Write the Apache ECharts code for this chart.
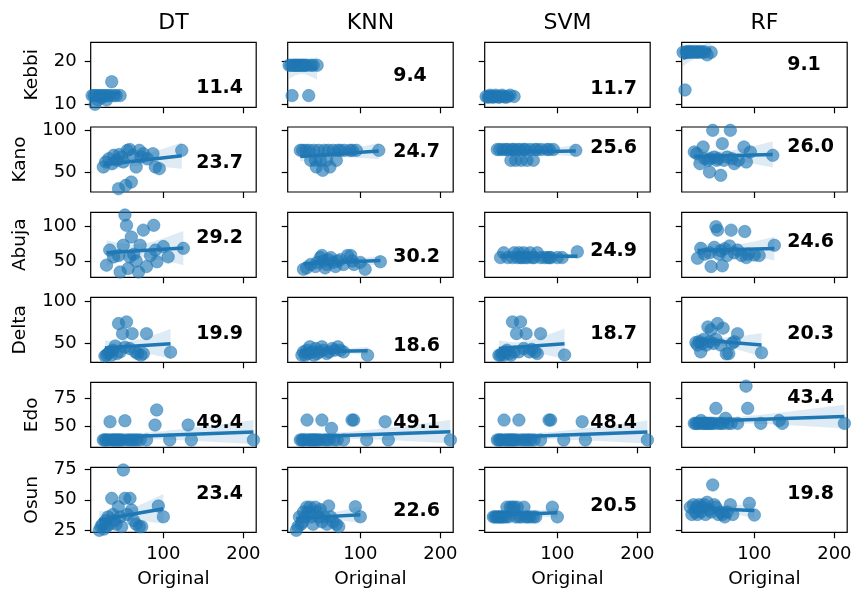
<!DOCTYPE html>
<html><head><meta charset="utf-8">
<script src="https://cdn.jsdelivr.net/npm/echarts@6/dist/echarts.min.js"></script>
<style>html,body{margin:0;padding:0;background:#fff}#c{width:859px;height:596px}</style>
</head><body><div id="c"></div>
<script>
// ---------------- DATA ----------------
const models = ['DT', 'KNN', 'SVM', 'RF'];
const states = ['Kebbi', 'Kano', 'Abuja', 'Delta', 'Edo', 'Osun'];
const xTickValues = [100, 200];

const kebbiX   = [11, 13.4, 14.7, 16, 18, 19.5, 21, 23, 25, 27, 29, 31, 33, 35.5, 38, 41, 46];
const kebbiDT  = [12, 12, 10, 12, 11, 12, 12, 11.5, 12, 12, 11, 12, 12, 15.2, 12, 12, 12];
const kebbiKNN = [19, 19, 12, 19, 19, 19, 19, 19, 19, 19, 19, 19, 19, 12, 19, 19, 19];
const kebbiSVM = [11.8, 11.6, 11.8, 12.1, 11.8, 11.6, 11.8, 12.1, 11.8, 11.6, 11.8, 12.1, 11.8, 11.6, 11.8, 12.1, 11.8];
const kebbiRF  = [22, 13.3, 22.1, 22, 22.2, 22, 22.1, 22, 22.2, 22, 22.1, 22, 22.2, 22, 22.1, 21.4, 22];
const kebbiTicks = [10, 20];

const kanoX   = [25, 28, 32, 36, 38, 42, 44, 45, 48, 50, 53, 55, 58, 60, 62, 66, 70, 72, 75, 80, 87, 90, 95, 123];
const kanoDT  = [56, 62, 66, 60, 70, 64, 30, 71, 68, 62, 34, 76, 77, 38, 70, 56, 76, 68, 72, 66, 72, 56, 54, 76];
const kanoKNN = [76, 76, 76, 76, 64, 76, 64, 56, 76, 64, 52, 76, 64, 76, 56, 76, 64, 76, 76, 76, 76, 76, 76, 76];
const kanoSVM = [77, 77, 77, 77, 77, 64, 77, 77, 64, 77, 77, 64, 77, 77, 64, 77, 64, 77, 77, 77, 77, 77, 77, 76];
const kanoRF  = [74, 72, 60, 80, 66, 64, 50, 66, 100, 68, 64, 66, 46, 84, 64, 68, 100, 66, 60, 64, 80, 62, 74, 70];
const kanoTicks = [50, 100];

const abujaX   = [29, 33, 38, 44, 46, 50, 52, 54, 56, 58, 60, 63, 66, 69, 71, 75, 79, 84, 88, 90, 92, 100, 106, 125];
const abujaDT  = [44, 66, 56, 58, 34, 73, 117, 102, 39, 56, 85, 60, 50, 34, 73, 95, 42, 58, 102, 66, 49, 71, 56, 68.5];
const abujaKNN = [38, 40, 45, 42, 48, 55, 58, 50, 40, 45, 52, 55, 48, 42, 50, 52, 45, 58, 58, 50, 45, 48, 38, 49];
const abujaSVM = [55, 62, 55, 55, 62, 55, 62, 55, 55, 62, 55, 55, 62, 55, 55, 62, 55, 55, 55, 55, 55, 55, 55, 63.5];
const abujaRF  = [54, 68.5, 60, 62, 42, 70, 100, 95, 60, 65, 43, 68, 58, 72, 95, 62, 66, 58, 93, 55, 60, 58.7, 58, 73];
const abujaTicks = [50, 100];

const deltaX   = [27, 29, 31, 33, 35, 37, 40, 42, 44, 46, 49, 52, 54, 58, 61, 65, 68, 72, 75, 79, 109];
const deltaDT  = [35, 36, 38, 40, 36, 42, 47, 38, 73.4, 40, 61.5, 45.6, 75.4, 44, 61.5, 40, 38, 36, 38, 61.5, 39.7];
const deltaKNN = [36, 40, 36, 42, 38, 46, 40, 36, 44, 38, 40, 46, 42, 38, 40, 44, 42, 46, 42, 40, 36];
const deltaSVM = [36, 36, 38, 36, 40, 42, 38, 36, 75.4, 40, 61.5, 40, 75.4, 44, 61.5, 40, 43, 40, 38, 61.5, 36.4];
const deltaRF  = [51, 48, 52, 40, 50, 55, 48, 69.4, 52, 66, 50, 55, 73.4, 48, 68, 37.7, 38, 50, 52, 61.5, 39];
const deltaTicks = [50, 100];

const edoX   = [25, 27, 29, 31, 33.4, 35, 37, 39, 41, 43, 45, 47, 50, 52, 55, 58, 61, 64, 67, 71, 79, 89.6, 91.7, 108, 131, 135, 212.5];
const edoDT  = [37.4, 37.4, 37.4, 37.4, 53.9, 37.4, 37.4, 37.4, 37.4, 37.4, 37.4, 37.4, 37.4, 54.8, 37.4, 37.4, 37.4, 37.4, 37.4, 37.4, 37.4, 50.9, 64.5, 37.4, 50.9, 37.4, 37.4];
const edoKNN = [37.4, 37.4, 37.4, 37.4, 55.4, 37.4, 37.4, 37.4, 37.4, 37.4, 37.4, 37.4, 37.4, 55.4, 37.4, 37.4, 37.4, 47.9, 37.4, 37.4, 37.4, 55.4, 55.4, 37.4, 53.9, 37.4, 37.4];
const edoSVM = [37.4, 37.4, 37.4, 37.4, 55.4, 37.4, 37.4, 37.4, 37.4, 37.4, 37.4, 37.4, 37.4, 55.4, 37.4, 37.4, 37.4, 37.4, 37.4, 37.4, 37.4, 55.4, 55.4, 37.4, 53.9, 37.4, 37.4];
const edoRF  = [52.4, 52.4, 52.4, 52.4, 55, 52.4, 52.4, 52.4, 52.4, 52.4, 52.4, 52.4, 52.4, 66, 52.4, 52.4, 52.4, 57, 52.4, 52.4, 52.4, 86, 66, 52.4, 55, 52.4, 52.4];
const edoTicks = [50, 75];

const osunX   = [20, 22, 24, 26, 28, 29, 31, 33, 35.5, 37, 39, 41, 43.75, 46, 48, 50, 52, 55, 58.3, 60.4, 63, 66, 70, 73, 93.75, 100];
const osunDT  = [25, 28, 30, 26, 33, 28, 36, 30, 51.2, 38, 33, 30, 44.3, 36, 28, 74.4, 51.2, 38, 51.2, 41.6, 33, 30, 28, 28, 44.9, 36.1];
const osunKNN = [25, 28, 36, 30, 32, 40, 36, 44, 40, 44, 36, 30, 44, 40, 36, 42, 32, 36, 30, 45, 36, 32, 30, 28, 44.3, 36.1];
const osunSVM = [36, 36, 36, 36, 36, 36, 36, 36, 36, 44, 36, 44, 44, 44, 36, 44, 36, 36, 44, 36, 36, 36, 36, 36, 44, 36];
const osunRF  = [44, 38, 46, 40, 44, 38, 46, 40, 44, 46, 38, 48, 42, 40, 62.2, 46, 44, 38, 40, 38, 36, 40, 46, 38, 47.1, 37.5];
const osunTicks = [25, 50, 75];

const rmseKebbi = [11.4, 9.4, 11.7, 9.1];
const rmseKano  = [23.7, 24.7, 25.6, 26.0];
const rmseAbuja = [29.2, 30.2, 24.9, 24.6];
const rmseDelta = [19.9, 18.6, 18.7, 20.3];
const rmseEdo   = [49.4, 49.1, 48.4, 43.4];
const rmseOsun  = [23.4, 22.6, 20.5, 19.8];

// ---------------- LAYOUT ----------------
const FONT = 'DejaVu Sans';
const BLUE = '#1f77b4';
const colLeft = [90.7, 287.7, 484.7, 681.7];
const rowTop = [42.3, 127, 212.3, 297.3, 382.3, 467.3];
const W = 165.5, H = 65;
const xRange = [9.25, 216];
const yRange = [[9.3, 24.3], [26, 104], [26.3, 121], [27.7, 104.4], [30.8, 89.5], [23.4, 76.6]];
const nameGaps = [49, 61, 61, 61, 49, 49];
const textX = 141;
const textY = [[13.8, 16.6, 13.5, 19.1], [60.4, 74, 78.4, 80], [83, 56.3, 65, 78], [60.7, 46.8, 60.7, 60.7], [53, 52.4, 53, 75], [54.9, 40.4, 44.5, 54.9]];

const xs = [kebbiX, kanoX, abujaX, deltaX, edoX, osunX];
const ys = [
  [kebbiDT, kebbiKNN, kebbiSVM, kebbiRF],
  [kanoDT, kanoKNN, kanoSVM, kanoRF],
  [abujaDT, abujaKNN, abujaSVM, abujaRF],
  [deltaDT, deltaKNN, deltaSVM, deltaRF],
  [edoDT, edoKNN, edoSVM, edoRF],
  [osunDT, osunKNN, osunSVM, osunRF]
];
const yTicks = [kebbiTicks, kanoTicks, abujaTicks, deltaTicks, edoTicks, osunTicks];
const rmse = [rmseKebbi, rmseKano, rmseAbuja, rmseDelta, rmseEdo, rmseOsun];

function fit(x, y) {
  const n = x.length;
  const mx = x.reduce((a, b) => a + b, 0) / n;
  const my = y.reduce((a, b) => a + b, 0) / n;
  let sxx = 0, sxy = 0;
  for (let i = 0; i < n; i++) { sxx += (x[i] - mx) ** 2; sxy += (x[i] - mx) * (y[i] - my); }
  const b = sxy / sxx, a = my - b * mx;
  let sse = 0;
  for (let i = 0; i < n; i++) sse += (y[i] - a - b * x[i]) ** 2;
  const s = Math.sqrt(sse / (n - 2));
  return { n, mx, sxx, a, b, s };
}

const grid = [], xAxis = [], yAxis = [], series = [], graphic = [];
models.forEach((m, c) => {
  graphic.push({ type: 'text', x: colLeft[c] + W / 2, y: 23,
    style: { text: m, fontSize: 22, fontFamily: FONT, fill: '#000', textAlign: 'center', textVerticalAlign: 'middle' } });
});

states.forEach((st, r) => {
  models.forEach((m, c) => {
    const g = grid.length;
    grid.push({ left: colLeft[c], top: rowTop[r], width: W, height: H, show: true,
      borderColor: '#000', borderWidth: 1.2, backgroundColor: 'transparent' });
    xAxis.push({ type: 'value', gridIndex: g, min: xRange[0], max: xRange[1],
      axisLine: { show: false }, splitLine: { show: false },
      axisTick: { show: true, length: 6, lineStyle: { color: '#000', width: 1.2 }, customValues: xTickValues },
      axisLabel: { show: r === 5, customValues: xTickValues, fontSize: 18, color: '#000', fontFamily: FONT, margin: 13 },
      name: r === 5 ? 'Original' : '', nameLocation: 'middle', nameGap: 37,
      nameTextStyle: { fontSize: 18.5, color: '#000', fontFamily: FONT } });
    yAxis.push({ type: 'value', gridIndex: g, min: yRange[r][0], max: yRange[r][1],
      axisLine: { show: false }, splitLine: { show: false },
      axisTick: { show: true, length: 6, lineStyle: { color: '#000', width: 1.2 }, customValues: yTicks[r] },
      axisLabel: { show: c === 0, customValues: yTicks[r], fontSize: 18, color: '#000', fontFamily: FONT, margin: 14 },
      name: c === 0 ? st : '', nameLocation: 'middle', nameRotate: 90, nameGap: nameGaps[r],
      nameTextStyle: { fontSize: 18.5, color: '#000', fontFamily: FONT } });

    const x = xs[r], y = ys[r][c];
    const f = fit(x, y);
    const xmin = Math.min(...x), xmax = Math.max(...x);
    const t = 2.06;
    const band = [];
    const N = 60;
    for (let i = 0; i <= N; i++) {
      const xv = xmin + (xmax - xmin) * i / N;
      const yh = f.a + f.b * xv;
      const se = f.s * Math.sqrt(1 / f.n + (xv - f.mx) ** 2 / f.sxx);
      band.push([xv, yh - t * se, yh + t * se]);
    }
    series.push({ type: 'scatter', xAxisIndex: g, yAxisIndex: g, z: 2,
      data: x.map((v, i) => [v, y[i]]), symbolSize: 12.5,
      itemStyle: { color: 'rgba(31,119,180,0.8)', borderColor: 'rgba(31,119,180,0.9)', borderWidth: 0.6 },
      silent: true, animation: false });
    series.push({ type: 'custom', xAxisIndex: g, yAxisIndex: g, z: 3, clip: true, silent: true, animation: false,
      data: band, encode: { x: 0, y: [1, 2] },
      renderItem: (params, api) => {
        if (params.dataIndex !== 0) return;
        const pts = [];
        band.forEach(d => pts.push(api.coord([d[0], d[2]])));
        for (let i = band.length - 1; i >= 0; i--) pts.push(api.coord([band[i][0], band[i][1]]));
        return { type: 'polygon', shape: { points: pts }, style: { fill: 'rgba(31,119,180,0.15)' } };
      } });
    series.push({ type: 'line', xAxisIndex: g, yAxisIndex: g, z: 4, clip: true, silent: true, animation: false,
      data: [[xmin, f.a + f.b * xmin], [xmax, f.a + f.b * xmax]], showSymbol: false, symbol: 'none',
      lineStyle: { color: BLUE, width: 3.5 } });
  });
});

const chart = echarts.init(document.getElementById('c'));
chart.setOption({ animation: false, backgroundColor: '#fff', grid, xAxis, yAxis, series, graphic });

// RMSE annotations placed at data coordinates via the axes
const notes = [];
states.forEach((st, r) => {
  models.forEach((m, c) => {
    const g = r * 4 + c;
    const p = chart.convertToPixel({ xAxisIndex: g, yAxisIndex: g }, [textX, textY[r][c]]);
    notes.push({ type: 'text', x: p[0], y: p[1], z: 100,
      style: { text: rmse[r][c].toFixed(1), fontSize: 19, fontWeight: 'bold', fontFamily: FONT,
        fill: '#000', textAlign: 'left', textVerticalAlign: 'middle' } });
  });
});
chart.setOption({ graphic: graphic.concat(notes) });
</script></body></html>
